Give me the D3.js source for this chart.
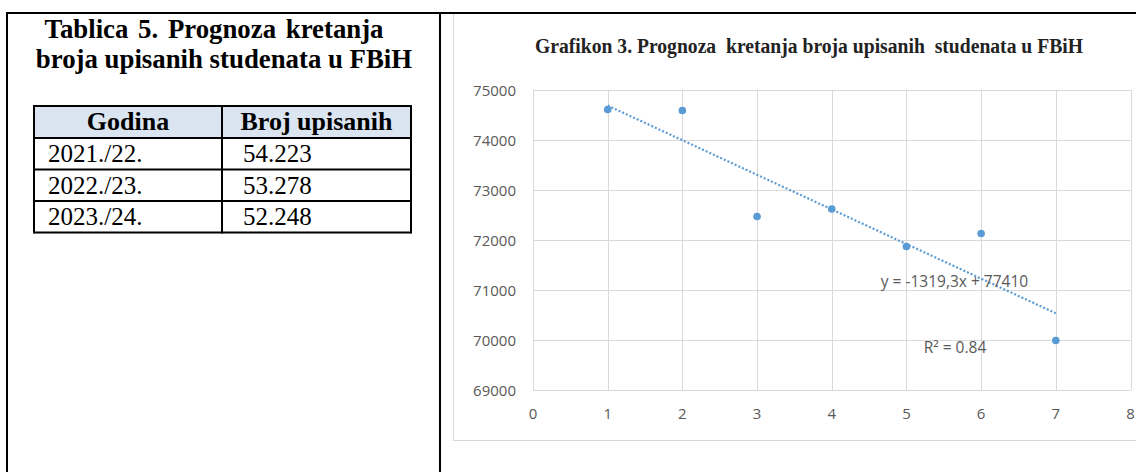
<!DOCTYPE html>
<html>
<head>
<meta charset="utf-8">
<script src="https://cdn.jsdelivr.net/npm/d3@7"></script>
<style>
  body { margin: 0; background: #fff; }
  svg { display: block; }
</style>
</head>
<body>
<div id="chart"></div>
<script>
// table data
const tableTitle = ["Tablica 5. Prognoza kretanja", "broja upisanih studenata u FBiH"];
const tableHeaders = ["Godina", "Broj upisanih"];
const tableYears = ["2021./22.", "2022./23.", "2023./24."];
const tableValues = ["54.223", "53.278", "52.248"];

// chart data
const chartTitle = "Grafikon 3. Prognoza\u00a0 kretanja broja upisanih\u00a0 studenata u FBiH";
const xValues = [1, 2, 3, 4, 5, 6, 7];
const yValues = [74610, 74590, 72470, 72620, 71870, 72130, 69990];
const xTicks = [0, 1, 2, 3, 4, 5, 6, 7, 8];
const yTicks = [69000, 70000, 71000, 72000, 73000, 74000, 75000];
const equationLabel = "y = -1319,3x + 77410";
const r2Label = "R\u00b2 = 0.84";

const W = 1136, H = 472;
const svg = d3.select("#chart")
  .append("svg")
  .attr("width", W)
  .attr("height", H);

svg.append("rect").attr("width", W).attr("height", H).attr("fill", "#fff");

const serif = "'Liberation Serif', 'Times New Roman', serif";
const sans = "'Open Sans', 'Noto Sans', sans-serif";

// ---------- left panel: table ----------
svg.selectAll(".tbl-title")
  .data(tableTitle)
  .enter()
  .append("text")
  .attr("x", (d, i) => i === 0 ? 214 : 224)
  .attr("y", (d, i) => 38 + i * 30)
  .attr("text-anchor", "middle")
  .attr("font-family", serif)
  .attr("font-weight", "bold")
  .attr("font-size", 26.8)
  .attr("word-spacing", (d, i) => i === 0 ? 3 : 0)
  .attr("fill", "#000")
  .text(d => d);

const tbl = { left: 34, mid: 222, right: 411, top: 106, headH: 32, rowH: 31.5 };

svg.append("rect")
  .attr("x", tbl.left).attr("y", tbl.top)
  .attr("width", tbl.right - tbl.left).attr("height", tbl.headH)
  .attr("fill", "#dbe5f1");

const colCenters = [(tbl.left + tbl.mid) / 2, (tbl.mid + tbl.right) / 2];
svg.selectAll(".tbl-head")
  .data(tableHeaders)
  .enter()
  .append("text")
  .attr("x", (d, i) => colCenters[i])
  .attr("y", tbl.top + 24)
  .attr("text-anchor", "middle")
  .attr("font-family", serif)
  .attr("font-weight", "bold")
  .attr("font-size", 26)
  .text(d => d);

const rows = tableYears.map((yr, i) => ({ yr, val: tableValues[i] }));
const rowY = i => tbl.top + tbl.headH + i * tbl.rowH;

svg.selectAll(".tbl-yr")
  .data(rows)
  .enter()
  .append("text")
  .attr("x", 48)
  .attr("y", (d, i) => rowY(i) + 24)
  .attr("font-family", serif)
  .attr("font-size", 25)
  .text(d => d.yr);

svg.selectAll(".tbl-val")
  .data(rows)
  .enter()
  .append("text")
  .attr("x", 243)
  .attr("y", (d, i) => rowY(i) + 24)
  .attr("font-family", serif)
  .attr("font-size", 25)
  .text(d => d.val);

// table lines
const tblBottom = rowY(rows.length);
const hLines = d3.range(rows.length + 1).map(i => rowY(i)).concat([tbl.top]);
svg.selectAll(".tbl-h")
  .data(hLines)
  .enter()
  .append("line")
  .attr("x1", tbl.left).attr("x2", tbl.right)
  .attr("y1", d => d).attr("y2", d => d)
  .attr("stroke", "#000").attr("stroke-width", 2);

svg.selectAll(".tbl-v")
  .data([tbl.left, tbl.mid, tbl.right])
  .enter()
  .append("line")
  .attr("x1", d => d).attr("x2", d => d)
  .attr("y1", tbl.top - 1).attr("y2", tblBottom + 1)
  .attr("stroke", "#000").attr("stroke-width", 2);

// ---------- right panel: chart ----------
svg.append("rect")
  .attr("x", 453.5).attr("y", 13.5)
  .attr("width", 700).attr("height", 427)
  .attr("fill", "#fff")
  .attr("stroke", "#d9d9d9");

svg.append("text")
  .attr("x", 535)
  .attr("y", 53)
  .attr("font-family", serif)
  .attr("font-weight", "bold")
  .attr("font-size", 20.5)
  .attr("textLength", 548)
  .attr("lengthAdjust", "spacingAndGlyphs")
  .attr("fill", "#222")
  .text(chartTitle);

const x = d3.scaleLinear().domain([0, 8]).range([533, 1130.5]);
const y = d3.scaleLinear().domain([69000, 75000]).range([390, 90]);

// gridlines
svg.append("g")
  .selectAll("line")
  .data(yTicks)
  .enter()
  .append("line")
  .attr("x1", x(0)).attr("x2", x(8))
  .attr("y1", d => Math.round(y(d)) + 0.5).attr("y2", d => Math.round(y(d)) + 0.5)
  .attr("stroke", "#d9d9d9");

svg.append("g")
  .selectAll("line")
  .data(xTicks)
  .enter()
  .append("line")
  .attr("x1", d => Math.round(x(d)) + 0.5).attr("x2", d => Math.round(x(d)) + 0.5)
  .attr("y1", y(75000)).attr("y2", y(69000))
  .attr("stroke", "#d9d9d9");

// tick labels
svg.append("g")
  .selectAll("text")
  .data(yTicks)
  .enter()
  .append("text")
  .attr("x", 516)
  .attr("y", d => y(d) + 5.5)
  .attr("text-anchor", "end")
  .attr("font-family", sans)
  .attr("font-size", 15)
  .attr("fill", "#595959")
  .text(d => d);

svg.append("g")
  .selectAll("text")
  .data(xTicks)
  .enter()
  .append("text")
  .attr("x", d => x(d))
  .attr("y", 419)
  .attr("text-anchor", "middle")
  .attr("font-family", sans)
  .attr("font-size", 15)
  .attr("fill", "#595959")
  .text(d => d);

// linear trendline (least squares)
const pts = xValues.map((v, i) => ({ x: v, y: yValues[i] }));
const mx = d3.mean(pts, d => d.x), my = d3.mean(pts, d => d.y);
const slope = d3.sum(pts, d => (d.x - mx) * (d.y - my)) / d3.sum(pts, d => (d.x - mx) ** 2);
const icept = my - slope * mx;
const xExt = d3.extent(xValues);

svg.append("line")
  .attr("x1", x(xExt[0])).attr("y1", y(icept + slope * xExt[0]))
  .attr("x2", x(xExt[1])).attr("y2", y(icept + slope * xExt[1]))
  .attr("stroke", "#5b9bd5")
  .attr("stroke-width", 2.2)
  .attr("stroke-dasharray", "2 2");

svg.append("g")
  .selectAll("circle")
  .data(pts)
  .enter()
  .append("circle")
  .attr("cx", d => x(d.x))
  .attr("cy", d => y(d.y))
  .attr("r", 3.8)
  .attr("fill", "#5b9bd5");

// trendline labels
svg.append("text")
  .attr("x", 954.5).attr("y", 287)
  .attr("text-anchor", "middle")
  .attr("font-family", sans)
  .attr("font-size", 15.5)
  .attr("fill", "#595959")
  .text(equationLabel);

svg.append("text")
  .attr("x", 955).attr("y", 353)
  .attr("text-anchor", "middle")
  .attr("font-family", sans)
  .attr("font-size", 15.5)
  .attr("fill", "#595959")
  .text(r2Label);

// ---------- page frame ----------
svg.append("line")
  .attr("x1", 6).attr("x2", W).attr("y1", 13).attr("y2", 13)
  .attr("stroke", "#000").attr("stroke-width", 2);

svg.selectAll(".frame-v")
  .data([7, 440])
  .enter()
  .append("line")
  .attr("x1", d => d).attr("x2", d => d)
  .attr("y1", 12).attr("y2", H)
  .attr("stroke", "#000").attr("stroke-width", 2);
</script>
</body>
</html>
